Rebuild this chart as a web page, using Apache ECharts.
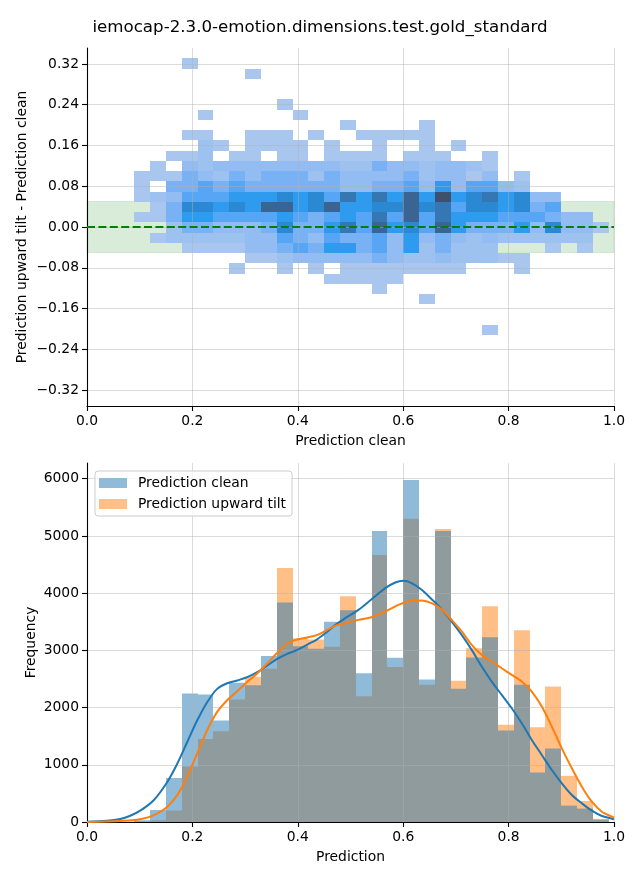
<!DOCTYPE html>
<html><head><meta charset="utf-8">
<script src="https://cdn.jsdelivr.net/npm/echarts@6/dist/echarts.min.js"></script>
<style>html,body{margin:0;padding:0;background:#fff}#c{width:640px;height:880px}</style>
</head><body><div id="c"></div>
<script>
const titleText = 'iemocap-2.3.0-emotion.dimensions.test.gold_standard';
const topXName = 'Prediction clean';
const topYName = 'Prediction upward tilt - Prediction clean';
const botXName = 'Prediction';
const botYName = 'Frequency';
const nameClean = 'Prediction clean';
const nameTilt = 'Prediction upward tilt';

// bin edges (x shared by both panels)
const xBinEdges = [0,0.03,0.06,0.09,0.12,0.15,0.18,0.21,0.24,0.27,0.30,0.33,0.36,0.39,0.42,0.45,0.48,0.51,0.54,0.57,0.60,0.63,0.66,0.69,0.72,0.75,0.78,0.81,0.84,0.87,0.90,0.93,0.96,0.99];
// y bin edges of the 2D histogram, bottom to top
const yBinEdges = [-0.2119,-0.1918,-0.1717,-0.1516,-0.1315,-0.1114,-0.0913,-0.0712,-0.0511,-0.0310,-0.0109,0.0092,0.0293,0.0494,0.0695,0.0896,0.1097,0.1298,0.1499,0.1700,0.1901,0.2102,0.2303,0.2504,0.2705,0.2906,0.3107,0.3308];

// 2D histogram counts, rows from top (highest y bin) to bottom, 33 x-bins each
const heatCounts = [
[0,0,0,0,0,0,10,0,0,0,0,0,0,0,0,0,0,0,0,0,0,0,0,0,0,0,0,0,0,0,0,0,0],
[0,0,0,0,0,0,0,0,0,0,10,0,0,0,0,0,0,0,0,0,0,0,0,0,0,0,0,0,0,0,0,0,0],
[0,0,0,0,0,0,0,0,0,0,0,0,0,0,0,0,0,0,0,0,0,0,0,0,0,0,0,0,0,0,0,0,0],
[0,0,0,0,0,0,0,0,0,0,0,0,0,0,0,0,0,0,0,0,0,0,0,0,0,0,0,0,0,0,0,0,0],
[0,0,0,0,0,0,0,0,0,0,0,0,10,0,0,0,0,0,0,0,0,0,0,0,0,0,0,0,0,0,0,0,0],
[0,0,0,0,0,0,0,10,0,0,0,0,0,10,0,0,0,0,0,0,0,0,0,0,0,0,0,0,0,0,0,0,0],
[0,0,0,0,0,0,0,0,0,0,0,0,0,0,0,0,10,0,0,0,0,10,0,0,0,0,0,0,0,0,0,0,0],
[0,0,0,0,0,0,10,10,0,0,10,10,10,0,10,0,0,10,10,10,10,10,0,0,0,0,0,0,0,0,0,0,0],
[0,0,0,0,0,0,0,15,10,0,10,10,10,10,0,10,0,0,10,0,0,10,0,10,0,0,0,0,0,0,0,0,0],
[0,0,0,0,0,10,10,15,0,10,10,0,10,10,0,10,10,10,10,0,10,10,10,0,0,10,0,0,0,0,0,0,0],
[0,0,0,0,10,0,20,15,20,20,20,20,20,20,20,20,15,15,30,20,20,15,20,20,15,10,0,0,0,0,0,0,0],
[0,0,0,10,10,10,30,20,15,30,20,30,30,30,15,30,20,20,20,20,30,15,20,20,10,20,0,10,0,0,0,0,0],
[0,0,0,10,0,30,30,40,30,40,30,30,30,30,30,30,20,20,30,30,40,20,50,20,40,40,20,15,0,0,0,0,0],
[0,0,0,10,15,20,40,40,40,50,50,50,60,50,60,40,70,50,70,50,80,50,90,50,60,70,50,60,20,20,0,0,0],
[0,0,0,0,10,30,60,60,50,60,50,80,80,50,60,80,50,50,60,60,80,60,70,40,60,60,50,60,30,40,0,0,0],
[0,0,0,10,10,30,50,50,40,40,40,40,50,40,30,40,50,40,70,40,80,40,70,50,50,50,40,40,40,30,20,20,0],
[0,0,0,0,0,15,30,30,20,20,20,30,60,30,30,50,70,40,80,50,60,40,80,50,30,30,30,50,20,60,20,20,10],
[0,0,0,0,10,15,15,15,15,15,20,20,40,30,20,40,30,30,40,20,50,20,30,20,15,20,15,15,15,15,15,15,0],
[0,0,0,0,0,0,10,10,10,10,20,20,30,40,30,50,50,30,40,20,50,15,30,15,15,15,0,0,0,10,0,10,0],
[0,0,0,0,0,0,0,0,0,0,10,10,15,20,20,20,20,20,30,20,15,15,20,15,15,15,10,10,0,0,0,0,0],
[0,0,0,0,0,0,0,0,0,10,0,0,10,0,10,0,10,10,10,10,10,10,10,10,0,0,0,10,0,0,0,0,0],
[0,0,0,0,0,0,0,0,0,0,0,0,0,0,0,10,10,10,10,10,0,0,0,0,0,0,0,0,0,0,0,0,0],
[0,0,0,0,0,0,0,0,0,0,0,0,0,0,0,0,0,0,10,0,0,0,0,0,0,0,0,0,0,0,0,0,0],
[0,0,0,0,0,0,0,0,0,0,0,0,0,0,0,0,0,0,0,0,0,10,0,0,0,0,0,0,0,0,0,0,0],
[0,0,0,0,0,0,0,0,0,0,0,0,0,0,0,0,0,0,0,0,0,0,0,0,0,0,0,0,0,0,0,0,0],
[0,0,0,0,0,0,0,0,0,0,0,0,0,0,0,0,0,0,0,0,0,0,0,0,0,0,0,0,0,0,0,0,0],
[0,0,0,0,0,0,0,0,0,0,0,0,0,0,0,0,0,0,0,0,0,0,0,0,0,10,0,0,0,0,0,0,0]
];
const heatColors = ['#a9c6ee','#93bdf2','#78b2f5','#56a6f5','#2f9bee','#2b89d4','#3477b3','#3a6593','#3d516e'];

const toleranceBand = [-0.05, 0.05];

// 1D histograms (33 bins)
const histClean = [10,0,5,30,210,770,2245,2228,1772,2433,2392,2900,3836,3070,3030,3500,3702,2600,5088,2870,5980,2490,5088,2330,2877,3228,1600,2400,865,1285,286,234,40];
const histTilt  = [5,0,0,10,30,200,970,1450,1585,2140,2538,2678,4438,3210,3190,3064,3947,2200,4667,2708,5300,2400,5120,2470,3035,3770,1700,3350,1655,2370,807,368,55];

const kdeClean = [[0,3],[0.038,20],[0.063,52],[0.082,110],[0.101,198],[0.127,385],[0.152,694],[0.171,1015],[0.190,1394],[0.209,1773],[0.228,2094],[0.247,2327],[0.266,2426],[0.285,2473],[0.304,2531],[0.323,2618],[0.342,2735],[0.361,2851],[0.380,2939],[0.399,3009],[0.418,3102],[0.436,3189],[0.455,3318],[0.474,3463],[0.490,3562],[0.515,3708],[0.540,3894],[0.566,4087],[0.585,4186],[0.600,4216],[0.616,4175],[0.635,4058],[0.654,3894],[0.674,3708],[0.692,3504],[0.711,3271],[0.730,3008],[0.749,2717],[0.768,2454],[0.787,2221],[0.806,1988],[0.825,1725],[0.844,1434],[0.863,1172],[0.882,909],[0.901,676],[0.920,472],[0.939,326],[0.958,198],[0.977,105],[0.996,58],[1.0,45]];
const kdeTilt = [[0,0],[0.063,17],[0.095,41],[0.114,76],[0.133,146],[0.152,262],[0.171,466],[0.190,787],[0.209,1195],[0.228,1603],[0.247,1924],[0.266,2128],[0.285,2286],[0.304,2449],[0.323,2595],[0.342,2770],[0.361,2957],[0.380,3120],[0.399,3190],[0.418,3225],[0.436,3266],[0.455,3353],[0.474,3441],[0.490,3475],[0.515,3533],[0.540,3580],[0.566,3679],[0.591,3796],[0.616,3866],[0.635,3872],[0.654,3825],[0.674,3708],[0.692,3533],[0.711,3330],[0.730,3096],[0.749,2921],[0.768,2805],[0.787,2688],[0.806,2571],[0.825,2454],[0.844,2280],[0.863,2017],[0.882,1667],[0.901,1288],[0.920,938],[0.939,618],[0.958,355],[0.977,180],[0.996,93],[1.0,80]];

const topYTicks = [-0.32,-0.24,-0.16,-0.08,0,0.08,0.16,0.24,0.32];
const botYTicks = [0,1000,2000,3000,4000,5000,6000];

// ---- build ----
const FONT = 'DejaVu Sans';
const FS = 13.89;
const heatData = [];
const nRows = heatCounts.length;
heatCounts.forEach((row, i) => {
  const ei = nRows - 1 - i;
  row.forEach((c, k) => {
    if (c > 0) heatData.push([xBinEdges[k], xBinEdges[k+1], yBinEdges[ei], yBinEdges[ei+1], c]);
  });
});
function histData(arr) {
  return arr.map((c, k) => [xBinEdges[k], xBinEdges[k+1], c]).filter(d => d[2] > 0);
}
function rectItem(fillFn) {
  return function (params, api) {
    const a = api.coord([api.value(0), api.value(3)]);
    const b = api.coord([api.value(1), api.value(2)]);
    const x0 = Math.round(a[0]), x1 = Math.round(b[0]);
    const y0 = Math.round(a[1]), y1 = Math.round(b[1]);
    return {type: 'rect', shape: {x: x0, y: y0, width: x1 - x0, height: y1 - y0}, style: {fill: fillFn(api)}};
  };
}
function barItem(fill) {
  return function (params, api) {
    const a = api.coord([api.value(0), api.value(2)]);
    const b = api.coord([api.value(1), 0]);
    const x0 = Math.round(a[0]), x1 = Math.round(b[0]);
    return {type: 'rect', shape: {x: x0, y: a[1], width: x1 - x0, height: b[1] - a[1]}, style: {fill: fill}};
  };
}
function axisCommon(extra) {
  return Object.assign({
    type: 'value',
    z: 3,
    axisLine: {show: true, onZero: false, lineStyle: {color: '#000', width: 1.1}},
    axisTick: {show: true, inside: false, length: 5, lineStyle: {color: '#000', width: 1.1}},
    splitLine: {show: true, lineStyle: {color: 'rgba(176,176,176,0.45)', width: 1}},
    nameLocation: 'middle',
    nameMoveOverlap: false,
    nameTextStyle: {fontSize: FS, color: '#000', fontFamily: FONT}
  }, extra);
}
const lbl = (fmt, extra) => Object.assign({color: '#000', fontSize: FS, fontFamily: FONT, margin: 8, formatter: fmt}, extra || {});
const fmtX = v => v.toFixed(1);
const fmtTopY = v => (v < -1e-9 ? '\u2212' : '') + Math.abs(v).toFixed(2);

const option = {
  animation: false,
  backgroundColor: '#fff',
  textStyle: {fontFamily: FONT},
  title: {text: titleText, left: 'center', top: 14, textStyle: {fontSize: 16.67, fontWeight: 'normal', color: '#000', fontFamily: FONT}},
  grid: [
    {left: 87, right: 26, top: 48, height: 358},
    {left: 87, right: 26, top: 463, height: 359}
  ],
  xAxis: [
    axisCommon({gridIndex: 0, min: 0, max: 1, interval: 0.2, name: topXName, nameGap: 28, axisLabel: lbl(fmtX)}),
    axisCommon({gridIndex: 1, min: 0, max: 1, interval: 0.2, name: botXName, nameGap: 28, axisLabel: lbl(fmtX)})
  ],
  yAxis: [
    axisCommon({gridIndex: 0, min: -0.3514, max: 0.3514, name: topYName, nameGap: 58,
      axisTick: {show: true, inside: false, length: 5, lineStyle: {color: '#000', width: 1.1}, customValues: topYTicks},
      axisLabel: lbl(fmtTopY, {customValues: topYTicks})}),
    axisCommon({gridIndex: 1, min: 0, max: 6275, name: botYName, nameGap: 49,
      axisTick: {show: true, inside: false, length: 5, lineStyle: {color: '#000', width: 1.1}, customValues: botYTicks},
      axisLabel: lbl(v => String(Math.round(v)), {customValues: botYTicks})})
  ],
  visualMap: {
    type: 'continuous', show: false, seriesIndex: 1, dimension: 4, min: 10, max: 90,
    inRange: {color: heatColors}
  },
  legend: {
    orient: 'vertical', left: 95, top: 471, itemWidth: 28, itemHeight: 10, itemGap: 7,
    padding: [5, 6, 5, 4], borderColor: '#cccccc', borderWidth: 1, borderRadius: 3,
    backgroundColor: 'rgba(255,255,255,0.8)', icon: 'rect', z: 6,
    textStyle: {fontSize: FS, color: '#000', fontFamily: FONT, padding: [0, 0, 0, 6]},
    data: [
      {name: nameClean, itemStyle: {color: '#8fbbd9', opacity: 1}},
      {name: nameTilt, itemStyle: {color: '#ffbf86', opacity: 1}}
    ]
  },
  series: [
    {type: 'custom', name: 'band', xAxisIndex: 0, yAxisIndex: 0, z: 1, silent: true,
      data: [[0, 1, toleranceBand[0], toleranceBand[1]]],
      encode: {x: [0, 1], y: [2, 3]},
      renderItem: function (params, api) {
        const a = api.coord([api.value(0), api.value(3)]);
        const b = api.coord([api.value(1), api.value(2)]);
        return {type: 'rect', shape: {x: a[0], y: a[1], width: b[0] - a[0], height: b[1] - a[1]},
          style: {fill: 'rgba(0,128,0,0.15)', stroke: 'rgba(0,128,0,0.12)', lineWidth: 1}};
      }},
    {type: 'custom', name: 'heat', xAxisIndex: 0, yAxisIndex: 0, z: 2,
      data: heatData, encode: {x: [0, 1], y: [2, 3]},
      renderItem: rectItem(api => api.visual('color'))},
    {type: 'line', name: 'zero', xAxisIndex: 0, yAxisIndex: 0, z: 4, symbol: 'none', silent: true,
      data: [[0, 0], [1, 0]], lineStyle: {color: '#008000', width: 2, type: [8, 3.4]}},
    {type: 'custom', name: nameTilt, xAxisIndex: 1, yAxisIndex: 1, z: 2,
      data: histData(histTilt), encode: {x: [0, 1], y: 2},
      itemStyle: {color: '#ffbf86'},
      renderItem: barItem('rgba(255,127,14,0.5)')},
    {type: 'custom', name: nameClean, xAxisIndex: 1, yAxisIndex: 1, z: 2,
      data: histData(histClean), encode: {x: [0, 1], y: 2},
      itemStyle: {color: '#8fbbd9'},
      renderItem: barItem('rgba(31,119,180,0.5)')},
    {type: 'line', name: 'kde clean', xAxisIndex: 1, yAxisIndex: 1, z: 4, symbol: 'none', smooth: 0.3,
      data: kdeClean, lineStyle: {color: '#1f77b4', width: 2}},
    {type: 'line', name: 'kde tilt', xAxisIndex: 1, yAxisIndex: 1, z: 4, symbol: 'none', smooth: 0.3,
      data: kdeTilt, lineStyle: {color: '#ff7f0e', width: 2}}
  ]
};
const chart = echarts.init(document.getElementById('c'), null, {renderer: 'canvas'});
chart.setOption(option);
</script>
</body></html>
